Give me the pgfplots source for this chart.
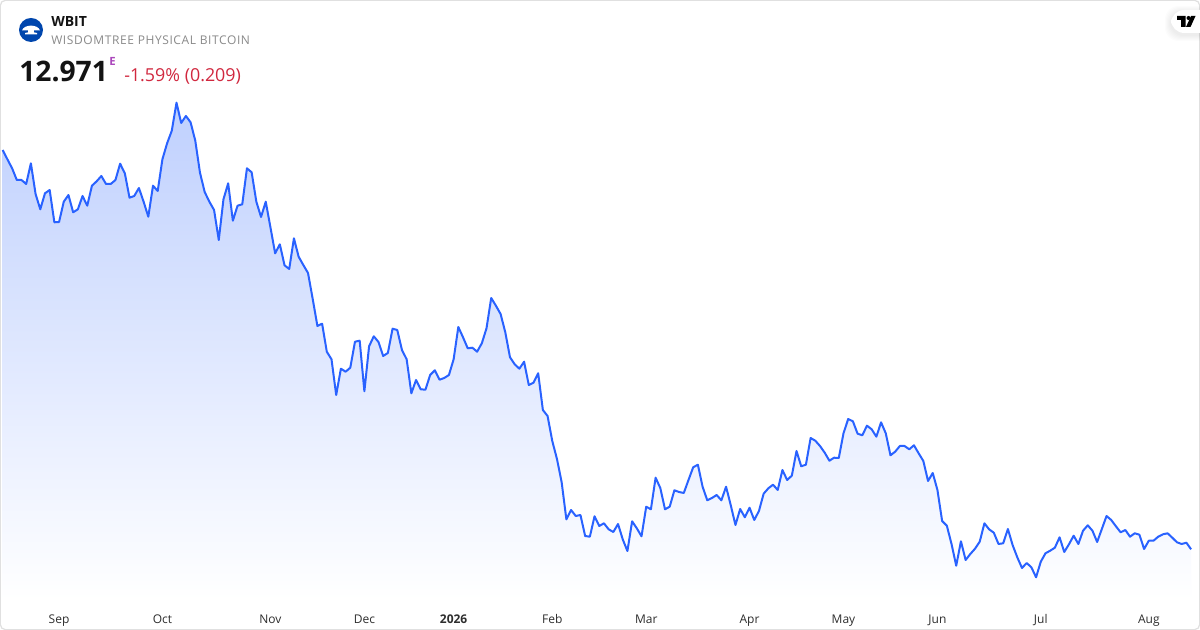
\documentclass[border=0pt]{standalone}
\usepackage{pgfplots}
\pgfplotsset{compat=1.18}
\usepackage{pgfplotstable}
\usepackage{fontspec}
\setmainfont{Open Sans}
\definecolor{ln}{HTML}{2962FF}
\definecolor{areatop}{HTML}{BFD0FE}
\definecolor{lab}{HTML}{2E2E2E}
\definecolor{logob}{HTML}{0046AD}
\definecolor{subt}{HTML}{8A8A8A}
\definecolor{redd}{HTML}{D1283F}
\definecolor{purp}{HTML}{AB47BC}
\definecolor{ink}{HTML}{131313}
\pgfplotstableread{
i py
0 150
1 159.3
2 168.3
3 180
4 180
5 184
6 163.3
7 194
8 209.3
9 193.3
10 190
11 222.3
12 222
13 201.7
14 195
15 212.3
16 209.3
17 196
18 205.7
19 185.7
20 181.3
21 176
22 184
23 184
24 180
25 163.7
26 173.3
27 197.7
28 196
29 188
30 201.7
31 216.7
32 185.7
33 191
34 159.3
35 143.3
36 130.7
37 102.7
38 123
39 116
40 122.3
41 140.7
42 172.7
43 192
44 201.7
45 210
46 240
47 199.3
48 183.3
49 220.7
50 205.7
51 204.3
52 168.3
53 172.3
54 201.7
55 217
56 201.7
57 227.3
58 253.3
59 244.3
60 265.3
61 269
62 238.3
63 256.7
64 265
65 273
66 299
67 326
68 323.7
69 351.7
70 359.3
71 395
72 368.7
73 371.7
74 367.7
75 341.7
76 340.7
77 391.3
78 346.3
79 336.3
80 342
81 356
82 353
83 328.7
84 330
85 350
86 359.3
87 393.3
88 380
89 389.3
90 389.7
91 375
92 370.3
93 379.7
94 378
95 375
96 359.3
97 327
98 337.3
99 348.3
100 347.7
101 351.7
102 343.3
103 328.3
104 298
105 305.7
106 314
107 332.3
108 357.3
109 364.3
110 368.7
111 361.7
112 385
113 382.7
114 373.3
115 410
116 416
117 441
118 459
119 482.3
120 519.3
121 510
122 516
123 515
124 536
125 536.7
126 516.3
127 526
128 523.3
129 529.3
130 532
131 524
132 539.3
133 551
134 521.3
135 528.3
136 536.3
137 506.7
138 509.3
139 477.7
140 488
141 509.3
142 506.7
143 490.3
144 492
145 493
146 480
147 467.3
148 464.7
149 486.7
150 500.3
151 498
152 495
153 500.3
154 486.7
155 505.3
156 525
157 509
158 517.3
159 507.7
160 520
161 511
162 493.7
163 488.3
164 484.7
165 490
166 470
167 480
168 475.7
169 451
170 466.3
171 464.7
172 438
173 440.7
174 446
175 452.7
176 460.7
177 457.7
178 458
179 433.3
180 419
181 421.3
182 433.7
183 435.3
184 425.7
185 429.3
186 436.7
187 422.3
188 433.3
189 455.3
190 451.7
191 446
192 446
193 449.3
194 445.3
195 453.3
196 461
197 481
198 473
199 490
200 521
201 525.7
202 544
203 565.7
204 541.3
205 560
206 554
207 548.7
208 541.7
209 523.3
210 529.3
211 532.7
212 544
213 543.3
214 529
215 545
216 557.3
217 568
218 563
219 567.3
220 577.3
221 561.7
222 553.3
223 550.7
224 547.7
225 537.3
226 552
227 544.3
228 535.7
229 544
230 530.7
231 525.3
232 530.7
233 542
234 529
235 516
236 520
237 526.3
238 532.3
239 530
240 536.7
241 533.3
242 534.7
243 549
244 540.7
245 540.7
246 536.7
247 534.3
248 533.3
249 537.7
250 542.3
251 544
252 542.7
253 549.3
}\wbit
\begin{document}
\begin{tikzpicture}
\path[use as bounding box] (0,0) rectangle (900pt,472.5pt);
\fill[white] (0,0) rectangle (900pt,472.5pt);
\begin{axis}[
  at={(0,0)},anchor=south west,
  scale only axis,width=900pt,height=472.5pt,
  xmin=-0.575,xmax=254.9,ymin=0,ymax=630,y dir=reverse,
  clip=true,axis on top,
  axis line style={draw=none},
  major tick length=0pt,
  ytick=\empty,
  axis x line*=bottom,
  xtick={12,34,57,77,96,117,137,159,179,199,221,244},
  xticklabels={Sep,Oct,Nov,Dec,\textbf{2026},Feb,Mar,Apr,May,Jun,Jul,Aug},
  xticklabel style={font=\fontsize{9pt}{11pt}\selectfont,text=lab,anchor=base,yshift=4.75pt},
]
\addplot[draw=none,top color=areatop,bottom color=white,shading angle=0]
  table[x=i,y=py]{\wbit} -- (axis cs:253,600) -- (axis cs:0,600) -- cycle;
\addplot[ln,line width=1.5pt,no markers,line join=round] table[x=i,y=py]{\wbit};
\end{axis}
% card border
\draw[black!12,line width=0.9pt,rounded corners=4pt] (0.2pt,0.2pt) rectangle (899.8pt,472.3pt);
% header, in reference pixels
\begin{scope}[x=0.75pt,y=-0.75pt,yshift=472.5pt]
\fill[logob] (31,30) circle (12);
\fill[white] (22,30.5) .. controls (24,24) and (38,24) .. (40,30.5) -- cycle;
\fill[white] (28,30) rectangle (34,33);
\fill[white] (25,33) .. controls (28,32) and (34,32) .. (37,33) -- (37,34.5) -- (25,34.5) -- cycle;
\node[anchor=base west,inner sep=0,text=ink,font=\fontsize{10.5pt}{12pt}\selectfont\bfseries] at (51,27) {WBIT};
\node[anchor=base west,inner sep=0,text=subt,font=\fontsize{9pt}{10pt}\selectfont\addfontfeature{LetterSpace=5}] at (51,45) {WISDOMTREE PHYSICAL BITCOIN};
\node[anchor=base west,inner sep=0,text=ink,font=\fontsize{21.2pt}{24pt}\selectfont\bfseries] at (19,82) {12.971};
\node[anchor=base west,inner sep=0,text=purp,font=\fontsize{8.5pt}{9pt}\selectfont\bfseries] at (109,66) {E};
\node[anchor=base west,inner sep=0,text=redd,font=\fontsize{13.4pt}{15pt}\selectfont] at (124,81.5) {-1.59\% (0.209)};
% TradingView badge
\foreach \o in {6,5,4,3,2,1}{
  \fill[black,opacity=0.012,rounded corners=10pt] (1171-\o,10-\o+2) rectangle (1215,33+\o+2);
}
\fill[white,rounded corners=10pt] (1171,10) rectangle (1215,33);
\fill[black] (1177,16) -- (1185.5,16) -- (1185.5,27) -- (1181,27) -- (1181,20) -- (1177,20) -- cycle;
\fill[black] (1188.5,18) circle (2);
\fill[black] (1191,16) -- (1195.5,16) -- (1190.5,27) -- (1186,27) -- cycle;
\end{scope}
\end{tikzpicture}
\end{document}
